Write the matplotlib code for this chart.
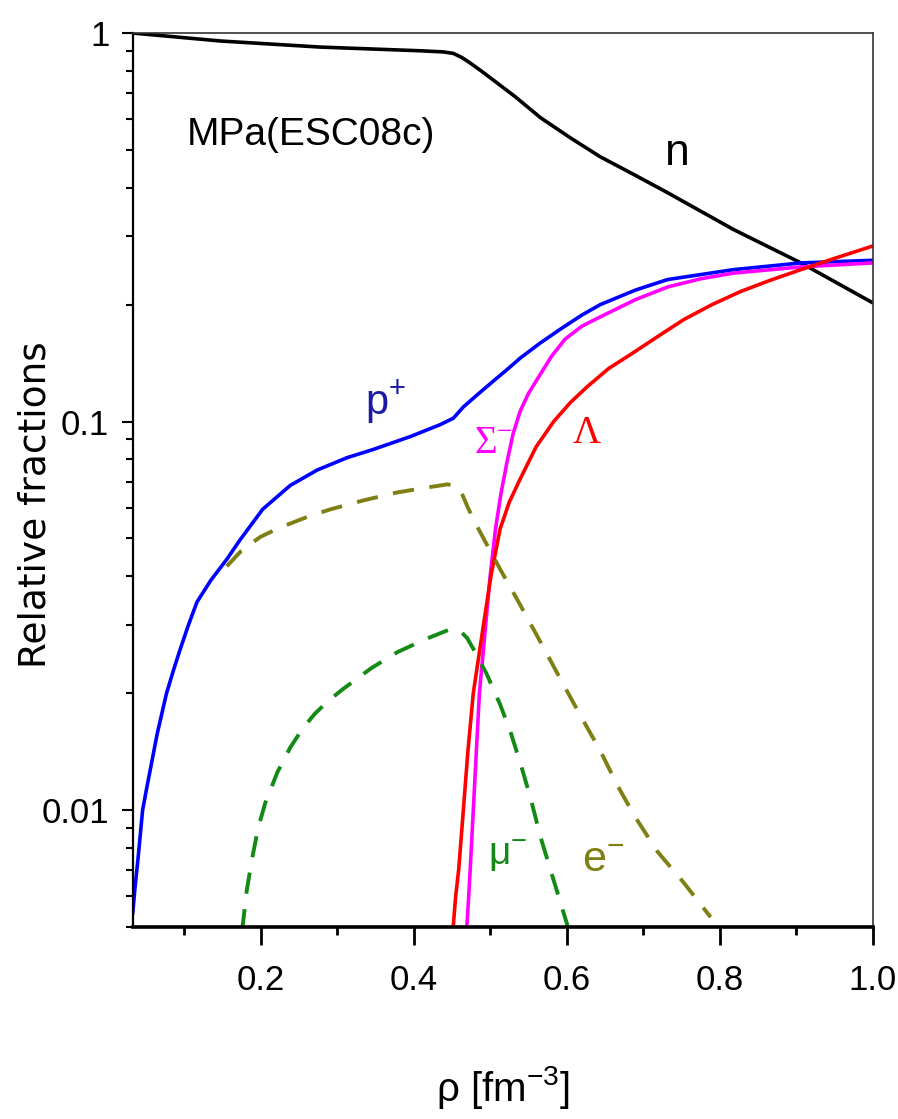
"""Relative particle fractions vs baryon density, MPa(ESC08c)."""

import numpy as np
import matplotlib
matplotlib.use('Agg')
import matplotlib.pyplot as plt
from matplotlib.ticker import FixedLocator, MultipleLocator, LogLocator, NullFormatter

plt.rcParams['font.family'] = ['Liberation Sans', 'DejaVu Sans']
plt.rcParams['mathtext.fontset'] = 'custom'
plt.rcParams['mathtext.rm'] = 'Liberation Sans'
plt.rcParams['mathtext.default'] = 'regular'

# =============================================================================
# Data (density in fm^-3, fractions)
rho_n = [0.033, 0.147, 0.278, 0.409, 0.439, 0.452, 0.463, 0.474, 0.489, 0.504, 0.533, 0.566,
         0.605, 0.644, 0.688, 0.732, 0.818, 0.906, 1.0]
frac_n = [1.0, 0.954, 0.92, 0.90, 0.894, 0.886, 0.865, 0.837, 0.797, 0.757, 0.685, 0.605,
          0.537, 0.48, 0.432, 0.388, 0.312, 0.256, 0.202]

rho_p = [0.033, 0.036, 0.040, 0.046, 0.051, 0.056, 0.065, 0.077, 0.086, 0.095, 0.106, 0.117,
         0.135, 0.156, 0.173, 0.203, 0.239, 0.274, 0.313, 0.347, 0.396, 0.435, 0.452,
         0.465, 0.485, 0.504, 0.522, 0.540, 0.565, 0.592, 0.620, 0.644, 0.690, 0.732,
         0.818, 0.906, 1.0]
frac_p = [0.0054, 0.0063, 0.0075, 0.0100, 0.0113, 0.0127, 0.0157, 0.0199, 0.0228, 0.0259, 0.0300, 0.0343,
          0.0390, 0.0442, 0.0495, 0.0595, 0.0685, 0.0750, 0.0807, 0.0847, 0.0915, 0.0982, 0.102,
          0.109, 0.118, 0.127, 0.136, 0.146, 0.159, 0.173, 0.188, 0.200, 0.218, 0.232,
          0.246, 0.256, 0.26]

rho_sigma = [0.469, 0.472, 0.474, 0.478, 0.482, 0.486, 0.494, 0.500, 0.507, 0.514, 0.522, 0.530,
             0.539, 0.550, 0.561, 0.580, 0.598, 0.620, 0.644, 0.690, 0.732, 0.775, 0.818, 0.906, 1.0]
frac_sigma = [0.0048, 0.0060, 0.00705, 0.0100, 0.0142, 0.0200, 0.0297, 0.0400, 0.0529, 0.0650, 0.0786, 0.0930,
              0.106, 0.118, 0.128, 0.147, 0.163, 0.176, 0.186, 0.206, 0.222, 0.233, 0.241, 0.250, 0.256]

rho_lam = [0.451, 0.455, 0.459, 0.465, 0.471, 0.478, 0.491, 0.501, 0.513, 0.525, 0.539, 0.560,
           0.583, 0.605, 0.627, 0.655, 0.684, 0.720, 0.753, 0.790, 0.827, 0.866, 0.906, 0.950, 1.0]
frac_lam = [0.0048, 0.0060, 0.00705, 0.0100, 0.0142, 0.0200, 0.0297, 0.0400, 0.0529, 0.0620, 0.0710, 0.0860,
            0.100, 0.112, 0.123, 0.137, 0.149, 0.166, 0.183, 0.200, 0.216, 0.231, 0.246, 0.263, 0.283]

rho_e = [0.156, 0.175, 0.200, 0.226, 0.260, 0.291, 0.335, 0.379, 0.415, 0.444, 0.452, 0.461,
         0.471, 0.483, 0.500, 0.513, 0.533, 0.553, 0.572, 0.592, 0.618, 0.644, 0.666, 0.688,
         0.705, 0.719, 0.753, 0.788]
frac_e = [0.0424, 0.0465, 0.0505, 0.0534, 0.0567, 0.0594, 0.0627, 0.0657, 0.0675, 0.0689, 0.0685, 0.0667,
          0.0600, 0.0537, 0.0465, 0.0417, 0.0355, 0.0301, 0.0257, 0.0217, 0.0175, 0.0142, 0.0116, 0.0097,
          0.0086, 0.0078, 0.0065, 0.0053]

rho_mu = [0.176, 0.182, 0.189, 0.197, 0.206, 0.222, 0.239, 0.255, 0.271, 0.290, 0.308, 0.345,
          0.379, 0.415, 0.448, 0.461, 0.470, 0.478, 0.495, 0.513, 0.527, 0.540, 0.553, 0.566,
          0.585, 0.603]
frac_mu = [0.0049, 0.0062, 0.0075, 0.0090, 0.0104, 0.0125, 0.0145, 0.0162, 0.0177, 0.0192, 0.0205, 0.0232,
           0.0255, 0.0275, 0.0292, 0.0289, 0.0277, 0.0260, 0.0225, 0.0187, 0.0158, 0.0131, 0.0107, 0.0085,
           0.0064, 0.0049]

xticks_major = [0.2, 0.4, 0.6, 0.8, 1.0]
yticks_major = [0.01, 0.1, 1]
ytick_labels = ['0.01', '0.1', '1']

# =============================================================================
fig = plt.figure(figsize=(8.98, 11.19), dpi=100)
ax = fig.add_axes([0.148, 0.1716, 0.824, 0.7989])

lw = 2.6
kw = dict(solid_joinstyle='round', solid_capstyle='round')
ax.plot(rho_n, frac_n, color='black', lw=lw, **kw)
ax.plot(rho_p, frac_p, color='#0000ff', lw=lw, **kw)
ax.plot(rho_sigma, frac_sigma, color='#ff00ff', lw=lw, **kw)
ax.plot(rho_lam, frac_lam, color='#ff0000', lw=lw, **kw)
ax.plot(rho_e, frac_e, color='#7f7f14', lw=2.8, dashes=(5.5, 4))
ax.plot(rho_mu, frac_mu, color='#138a13', lw=2.8, dashes=(5.5, 4))

ax.set_yscale('log')
ax.set_xlim(0.0333, 1.0)
ax.set_ylim(0.005, 1.0)

# ticks
ax.xaxis.set_major_locator(FixedLocator(xticks_major))
ax.xaxis.set_minor_locator(MultipleLocator(0.1))
ax.set_xticklabels([f"{v:.1f}" for v in xticks_major])
ax.yaxis.set_major_locator(FixedLocator(yticks_major))
ax.set_yticklabels(ytick_labels)
ax.yaxis.set_minor_locator(LogLocator(base=10, subs=np.arange(2, 10)))
ax.yaxis.set_minor_formatter(NullFormatter())

ax.tick_params(axis='x', which='major', direction='out', length=13, width=2, labelsize=25, pad=14)
ax.tick_params(axis='x', which='minor', direction='out', length=6, width=2)
ax.tick_params(axis='y', which='major', direction='out', length=8, width=1.5, labelsize=25, pad=9)
ax.tick_params(axis='y', which='minor', direction='out', length=5, width=1.5)

ax.spines['bottom'].set_linewidth(2.6)
ax.spines['left'].set_linewidth(1.6)
ax.spines['top'].set_linewidth(1.2)
ax.spines['right'].set_linewidth(1.2)
ax.spines['top'].set_color('#333333')
ax.spines['right'].set_color('#333333')

ax.set_xlabel(r"ρ [fm$^{-3}$]", fontsize=29, labelpad=48)
ax.set_ylabel("Relative fractions", fontsize=27, family='DejaVu Sans')
ax.yaxis.set_label_coords(-0.107, 0.472)

# annotations
ax.text(0.104, 0.547, "MPa(ESC08c)", fontsize=28, ha='left', va='center')
ax.text(0.744, 0.489, "n", fontsize=32, ha='center', va='center')
ax.text(0.363, 0.112, r"p$^{+}$", fontsize=30, color='#1a1aa6', ha='center', va='center')
ax.text(0.505, 0.088, r"Σ$^{-}$", fontsize=28, color='#ff00ff', ha='center', va='center',
        family='Liberation Serif')
ax.text(0.626, 0.0929, "Λ", fontsize=28, color='#ff0000', ha='center', va='center', family='Liberation Serif')
ax.text(0.523, 0.0076, r"μ$^{-}$", fontsize=28, color='#138a13', ha='center', va='center')
ax.text(0.648, 0.0074, r"e$^{-}$", fontsize=31, color='#7f7f14', ha='center', va='center')

fig.savefig('out.png', dpi=100)
